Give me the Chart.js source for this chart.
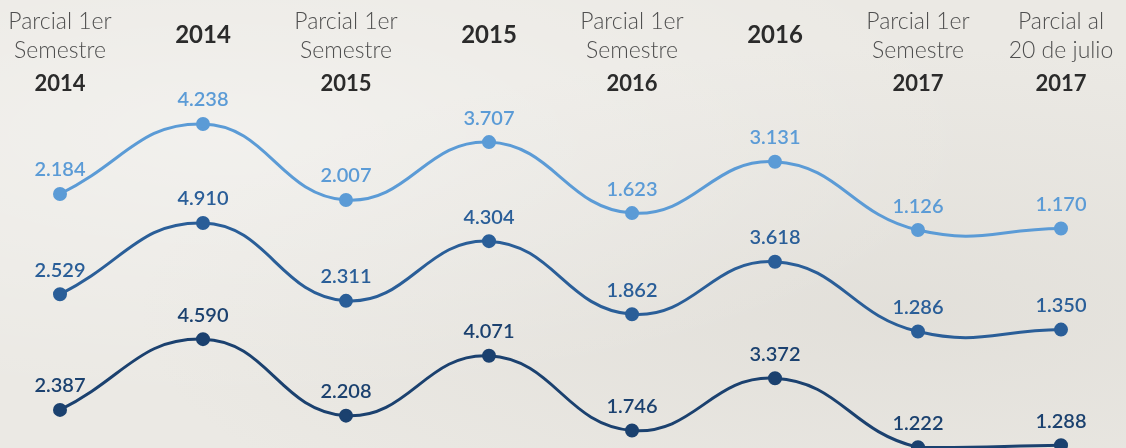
<!DOCTYPE html>
<html>
<head>
<meta charset="utf-8">
<script src="https://cdn.jsdelivr.net/npm/chart.js@4"></script>
<style>
  html, body { margin: 0; padding: 0; }
  body {
    width: 1126px; height: 448px; overflow: hidden;
    background: #ebe9e4;
    background-image:
      radial-gradient(ellipse at 20% 30%, rgba(255,255,255,0.35), rgba(255,255,255,0) 60%),
      radial-gradient(ellipse at 80% 70%, rgba(200,196,188,0.25), rgba(200,196,188,0) 60%);
  }
  #wrap { position: relative; width: 1126px; height: 448px; }
  canvas { display: block; }
</style>
</head>
<body>
<div id="wrap"><canvas id="lineChart" width="1126" height="448"></canvas></div>
<script>
// periods shown across the top
var periodText = [
    ['Parcial 1er', 'Semestre'], [], ['Parcial 1er', 'Semestre'], [],
    ['Parcial 1er', 'Semestre'], [], ['Parcial 1er', 'Semestre'], ['Parcial al', '20 de julio']
];
var periodYear = ['2014', '2014', '2015', '2015', '2016', '2016', '2017', '2017'];

// three series, each on its own hidden axis
var serieA = [2184, 4238, 2007, 3707, 1623, 3131, 1126, 1170];
var serieB = [2529, 4910, 2311, 4304, 1862, 3618, 1286, 1350];
var serieC = [2387, 4590, 2208, 4071, 1746, 3372, 1222, 1288];

var colorA = '#5b9bd6';
var colorB = '#2a5e98';
var colorC = '#1b416f';

function formatNumber(v) {
    return String(v).replace(/\B(?=(\d{3})+(?!\d))/g, '.');
}

var valueLabels = {
    id: 'valueLabels',
    afterDatasetsDraw: function (chart) {
        var ctx = chart.ctx;
        ctx.save();
        ctx.font = '600 20px Lato, sans-serif';
        ctx.textAlign = 'center';
        ctx.textBaseline = 'middle';
        chart.data.datasets.forEach(function (ds, i) {
            var meta = chart.getDatasetMeta(i);
            ctx.fillStyle = ds.borderColor;
            meta.data.forEach(function (pt, j) {
                ctx.fillText(formatNumber(ds.data[j]), pt.x, pt.y - 24);
            });
        });
        ctx.restore();
    }
};

var periodLabels = {
    id: 'periodLabels',
    afterDraw: function (chart) {
        var ctx = chart.ctx;
        var xScale = chart.scales.x;
        ctx.save();
        ctx.textAlign = 'center';
        ctx.textBaseline = 'middle';
        periodYear.forEach(function (year, i) {
            var x = xScale.getPixelForValue(i);
            var lines = periodText[i];
            if (lines.length) {
                ctx.font = '300 23px Lato, sans-serif';
                ctx.fillStyle = '#4f4f4f';
                ctx.fillText(lines[0], x, 22);
                ctx.fillText(lines[1], x, 51);
                ctx.font = 'bold 22px Lato, sans-serif';
                ctx.fillStyle = '#2b2b2b';
                ctx.fillText(year, x, 84);
            } else {
                ctx.font = 'bold 24px Lato, sans-serif';
                ctx.fillStyle = '#2b2b2b';
                ctx.fillText(year, x, 35);
            }
        });
        ctx.restore();
    }
};

function lineSet(data, color, axis) {
    return {
        data: data,
        yAxisID: axis,
        borderColor: color,
        backgroundColor: color,
        borderWidth: 3,
        pointRadius: 5.5,
        pointHoverRadius: 5.5,
        tension: 0.45,
        fill: false,
        clip: false
    };
}

var ctx = document.getElementById('lineChart').getContext('2d');
new Chart(ctx, {
    type: 'line',
    data: {
        labels: periodYear,
        datasets: [
            lineSet(serieA, colorA, 'yA'),
            lineSet(serieB, colorB, 'yB'),
            lineSet(serieC, colorC, 'yC')
        ]
    },
    options: {
        responsive: false,
        animation: false,
        layout: { autoPadding: false, padding: { top: 100, bottom: 0, left: 60, right: 65 } },
        plugins: { legend: { display: false }, tooltip: { enabled: false } },
        scales: {
            x: { display: false, offset: false },
            yA: { display: false, min: -5269, max: 4942 },
            yB: { display: false, min: -2603, max: 9017 },
            yC: { display: false, min: 1200, max: 12037 }
        }
    },
    plugins: [valueLabels, periodLabels]
});
</script>
</body>
</html>
